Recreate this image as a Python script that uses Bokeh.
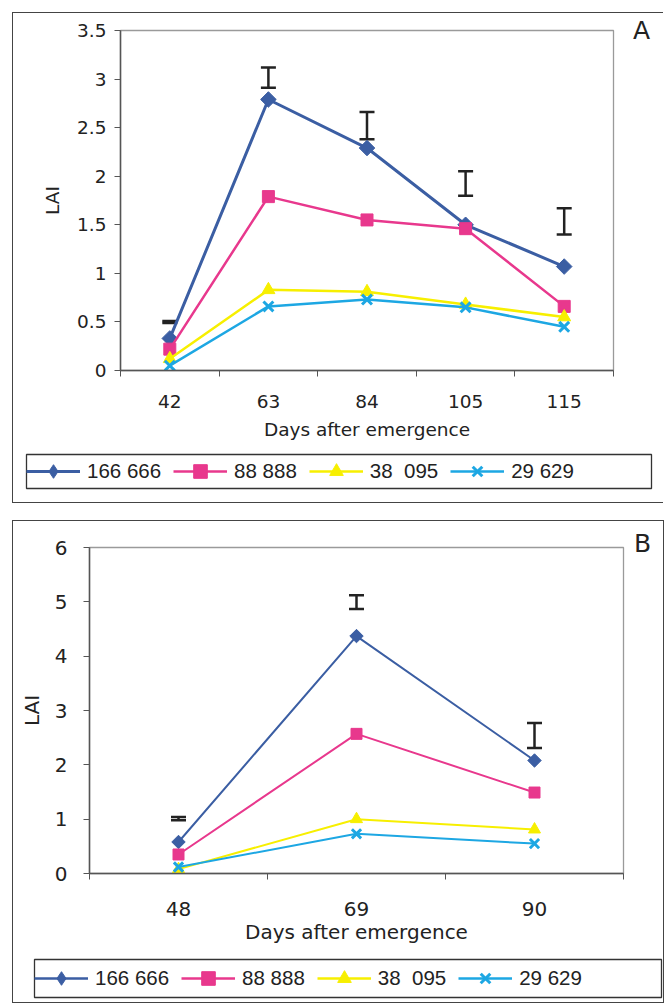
from bokeh.plotting import figure
from bokeh.models import (Range1d, FixedTicker, SingleIntervalTicker, Legend, LegendItem,
                          Whisker, TeeHead, ColumnDataSource, Div)
from bokeh.layouts import column, row
from bokeh.embed import file_html
from bokeh.resources import INLINE

# ---------------- data ----------------
series_names = ["166 666", "88 888", "38\u00a0 095", "29 629"]
series_colors = ["#3b5ea3", "#e8388d", "#f7ef00", "#1da7e3"]

days_a = ["42", "63", "84", "105", "115"]
lai_a_166666 = [0.33, 2.79, 2.29, 1.50, 1.07]
lai_a_88888 = [0.22, 1.79, 1.55, 1.46, 0.66]
lai_a_38095 = [0.12, 0.83, 0.81, 0.68, 0.55]
lai_a_29629 = [0.05, 0.66, 0.73, 0.65, 0.45]
err_a_low = [0.49, 2.91, 2.38, 1.80, 1.40]
err_a_high = [0.51, 3.12, 2.66, 2.05, 1.67]

days_b = ["48", "69", "90"]
lai_b_166666 = [0.58, 4.37, 2.08]
lai_b_88888 = [0.35, 2.57, 1.49]
lai_b_38095 = [0.08, 1.00, 0.81]
lai_b_29629 = [0.12, 0.73, 0.55]
err_b_low = [0.98, 4.87, 2.31]
err_b_high = [1.04, 5.12, 2.77]

AX_FONT = "DejaVu Sans"
LEG_FONT = "Liberation Sans"


def add_series(p, xs, vals, k, lw, msize, legend_style=False):
    c = series_colors[k]
    lr = p.line(xs, vals, line_color=c, line_width=lw)
    if k == 0:
        if legend_style:
            mr = p.scatter(xs, vals, marker="diamond", size=msize,
                           fill_color=c, line_color=c, line_width=1)
        else:
            mr = p.scatter(xs, vals, marker="square", size=msize, angle=0.785398,
                           fill_color=c, line_color=c, line_width=1)
    elif k == 3:
        mr = p.scatter(xs, vals, marker="x", size=msize, line_color=c, line_width=3)
    else:
        mr = p.scatter(xs, vals, marker="square" if k == 1 else "triangle", size=msize,
                       fill_color=c, line_color=c, line_width=1)
    return lr, mr


def make_chart(days, series, err_lo, err_hi, ymax, ystep, y_overrides,
               width, height, mb_left, mb_right, mb_top, mb_bottom,
               font_px, lw, msizes, lab_stand, axlab_stand, ylab_stand, ytick_stand):
    n = len(days)
    p = figure(width=width, height=height, output_backend="svg", toolbar_location=None,
               x_range=Range1d(0, n), y_range=Range1d(0, ymax),
               min_border_left=mb_left, min_border_right=mb_right,
               min_border_top=mb_top, min_border_bottom=mb_bottom)
    p.grid.visible = False
    p.outline_line_color = "#9a9a9a"
    p.outline_line_width = 1.3
    p.background_fill_color = "white"
    p.border_fill_color = "white"

    xs = [i + 0.5 for i in range(n)]

    xa = p.xaxis[0]
    xa.ticker = FixedTicker(ticks=xs, minor_ticks=list(range(n + 1)))
    xa.major_label_overrides = {x: d for x, d in zip(xs, days)}
    xa.major_tick_out = 0
    xa.major_tick_in = 0
    xa.minor_tick_out = 6
    xa.minor_tick_in = 0
    xa.minor_tick_line_color = "#555555"
    xa.axis_line_color = "#555555"
    xa.axis_line_width = 1.5
    xa.axis_label = "Days after emergence"
    xa.major_label_standoff = lab_stand
    xa.axis_label_standoff = axlab_stand

    ya = p.yaxis[0]
    ya.ticker = SingleIntervalTicker(interval=ystep)
    ya.major_label_overrides = y_overrides
    ya.major_tick_out = 6
    ya.major_tick_in = 0
    ya.minor_tick_line_color = None
    ya.major_tick_line_color = "#555555"
    ya.axis_line_color = "#555555"
    ya.axis_line_width = 1.5
    ya.axis_label = "LAI"
    ya.major_label_standoff = ytick_stand
    ya.axis_label_standoff = ylab_stand

    for ax in (xa, ya):
        ax.major_label_text_font = AX_FONT
        ax.major_label_text_font_size = f"{font_px}px"
        ax.major_label_text_color = "#222222"
        ax.axis_label_text_font = AX_FONT
        ax.axis_label_text_font_size = f"{font_px}px"
        ax.axis_label_text_font_style = "normal"
        ax.axis_label_text_color = "#222222"

    for k, vals in enumerate(series):
        add_series(p, xs, vals, k, lw[k], msizes[k])

    src = ColumnDataSource(data=dict(x=xs, lo=err_lo, hi=err_hi))
    wh = Whisker(source=src, base="x", lower="lo", upper="hi", dimension="height",
                 line_color="#222222", line_width=2.5,
                 upper_head=TeeHead(size=15, line_width=2.5, line_color="#222222"),
                 lower_head=TeeHead(size=15, line_width=2.5, line_color="#222222"))
    p.add_layout(wh)
    return p


def make_legend_fig(series, width, height, borders, lw, pad, glyph_h):
    # the frame of this small figure is the legend box; the series are drawn
    # outside its ranges so only their legend glyphs are visible
    p = figure(width=width, height=height, output_backend="svg", toolbar_location=None,
               x_range=Range1d(-20, -10), y_range=Range1d(-20, -10),
               x_axis_location=None, y_axis_location=None,
               min_border_left=borders[0], min_border_right=borders[1],
               min_border_top=borders[2], min_border_bottom=borders[3])
    p.grid.visible = False
    p.outline_line_color = "#333333"
    p.outline_line_width = 1.3
    p.background_fill_color = "white"
    p.border_fill_color = "white"
    items = []
    n = len(series[0])
    xs = [i + 0.5 for i in range(n)]
    for k, name in enumerate(series_names):
        lr, mr = add_series(p, xs, series[k], k, lw[k], 12, legend_style=True)
        items.append(LegendItem(label=name, renderers=[lr, mr]))
    leg = Legend(items=items, orientation="horizontal", location="left",
                 glyph_width=54, glyph_height=glyph_h, label_standoff=7, spacing=12,
                 padding=pad, margin=0,
                 label_text_font=LEG_FONT, label_text_font_size="20.5px",
                 label_text_color="#222222",
                 border_line_color=None, background_fill_alpha=0)
    p.add_layout(leg, "center")
    return p


def letter_div(letter, width, height, pad_left, pad_top, line_h):
    d = Div(text=letter, width=width, height=height,
            styles={"font-family": AX_FONT, "font-size": "25px", "color": "#222222",
                    "line-height": f"{line_h}px", "padding-left": f"{pad_left}px",
                    "padding-top": f"{pad_top}px", "box-sizing": "border-box",
                    "background-color": "white"})
    d.margin = (0, 0, 0, 0)
    return d


# ---------------- panel A ----------------
seriesA = [lai_a_166666, lai_a_88888, lai_a_38095, lai_a_29629]
lwA = [3, 2.5, 2.5, 2.5]
msA = [11, 12, 13, 14]
chartA = make_chart(days_a, seriesA, err_a_low, err_a_high, 3.5, 0.5,
                    {0: "0", 1: "1", 2: "2", 3: "3"},
                    width=612, height=434, mb_left=107, mb_right=12, mb_top=17, mb_bottom=77,
                    font_px=18.5, lw=lwA, msizes=msA, lab_stand=18, axlab_stand=8,
                    ylab_stand=11, ytick_stand=8)
divA = letter_div("A", 38, 434, 8, 12, 11)
legA = make_legend_fig(seriesA, 650, 55, (13, 12, 7, 14), lwA, 0, 34)
panelA = column(row(chartA, divA), legA,
                styles={"border-left": "1.5px solid #444", "border-top": "1.5px solid #444",
                        "border-bottom": "1.5px solid #444", "background-color": "white"})
panelA.margin = (12, 0, 0, 12)

# ---------------- panel B ----------------
seriesB = [lai_b_166666, lai_b_88888, lai_b_38095, lai_b_29629]
lwB = [2, 2, 2, 2]
msB = [9.5, 11, 12, 13]
chartB = make_chart(days_b, seriesB, err_b_low, err_b_high, 6, 1, {},
                    width=616, height=426, mb_left=76, mb_right=6, mb_top=26, mb_bottom=74,
                    font_px=20, lw=lwB, msizes=msB, lab_stand=22, axlab_stand=1,
                    ylab_stand=8, ytick_stand=16)
divB = letter_div("B", 34, 426, 5, 10, 25)
legB = make_legend_fig(seriesB, 650, 55, (21, 2, 12, 5), [2.5, 2.5, 2.5, 2.5], 2, 34)
panelB = column(row(chartB, divB), legB,
                styles={"border-left": "1.5px solid #444", "border-top": "1.5px solid #444",
                        "border-bottom": "1.5px solid #444", "border-right": "1.5px solid #444",
                        "background-color": "white"})
panelB.margin = (17, 0, 0, 12)

layout = column(panelA, panelB)
open("out.html", "w").write(file_html(layout, INLINE))
